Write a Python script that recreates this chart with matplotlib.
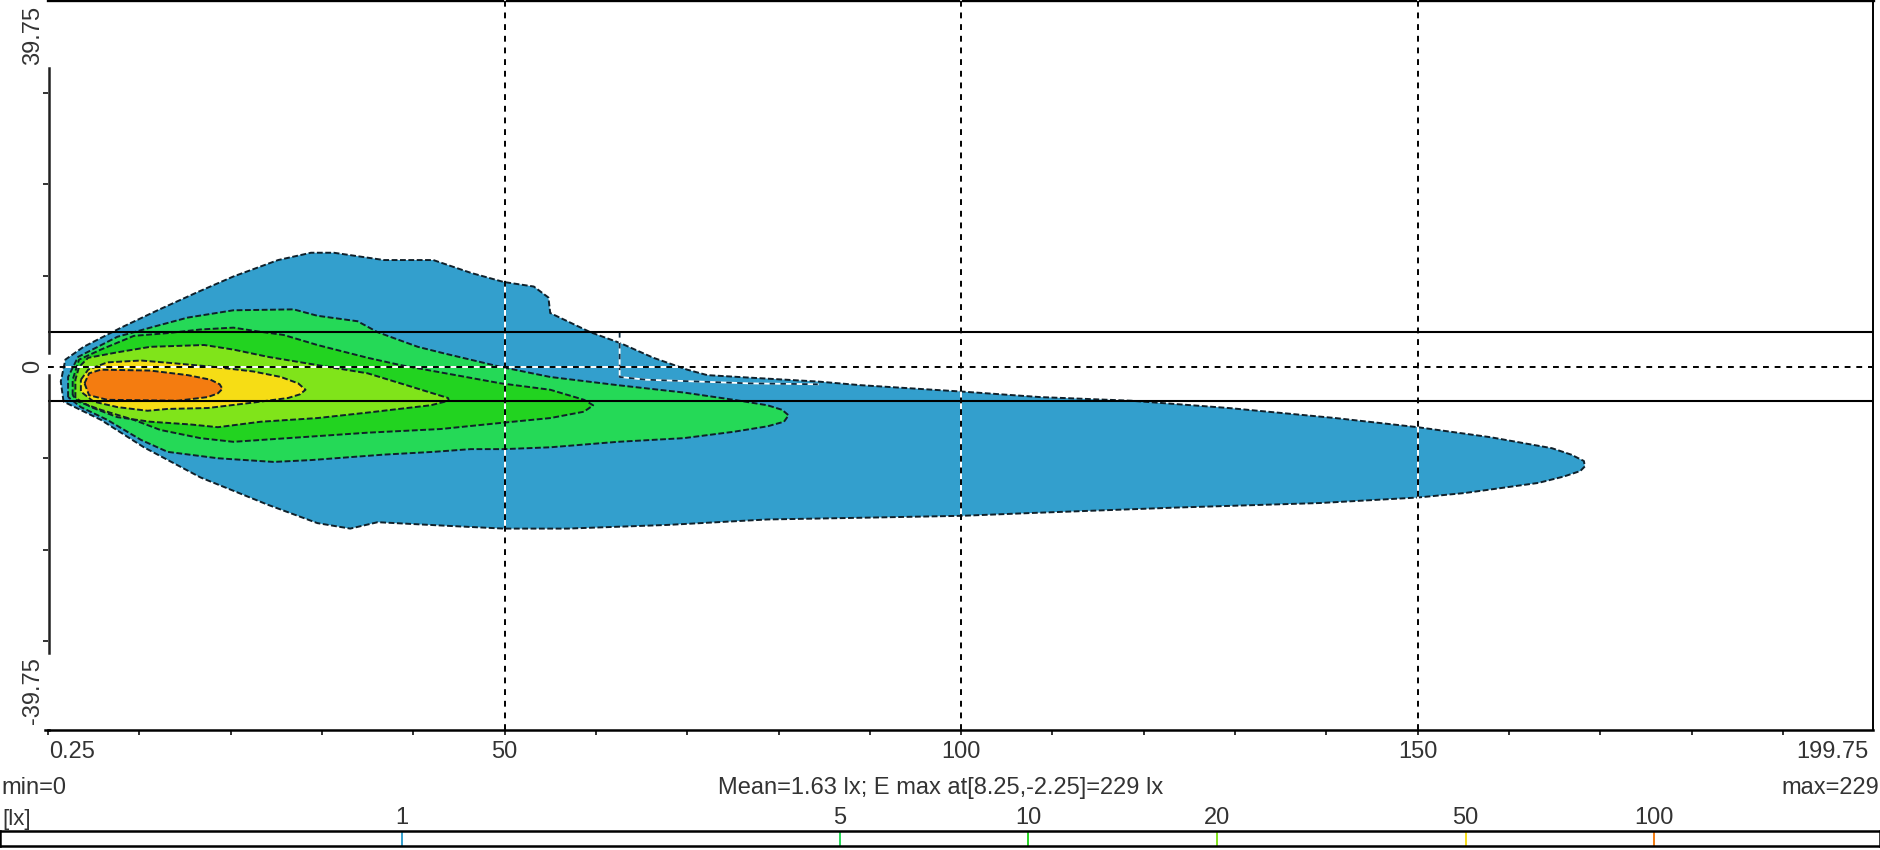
import matplotlib
matplotlib.use("Agg")
import matplotlib.pyplot as plt

plt.rcParams["font.family"] = ["Liberation Sans", "DejaVu Sans"]

# isolux outlines, road coordinates in metres
x_1 = [1.7, 1.4, 1.9, 3.9, 8.0, 12.0, 16.4, 20.3, 25.2, 28.8, 31.3, 36.8, 42.2, 46.3, 49.9, 53.2, 54.8, 55.0,
       59.4, 62.7, 66.3, 70.0, 72.2, 77.3, 84.3, 89.0, 100.1, 108.6, 118.6, 129.3, 141.0, 150.0, 158.0, 164.7,
       166.8, 168.2, 168.3, 167.8, 166.0, 163.2, 155.2, 150.0, 139.3, 123.5, 107.5, 100.1, 89.8, 78.8, 67.8, 56.9,
       49.9, 43.8, 36.1, 33.1, 29.5, 24.1, 16.7, 10.5, 5.8]
y_1 = [-3.8, -1.6, 0.8, 2.2, 4.3, 6.2, 8.2, 9.9, 11.7, 12.5, 12.5, 11.7, 11.7, 10.3, 9.3, 8.8, 7.6, 5.9,
       3.8, 2.6, 1.0, -0.3, -0.9, -1.2, -1.6, -2.0, -2.7, -3.3, -3.7, -4.5, -5.6, -6.6, -7.7, -8.9,
       -9.6, -10.3, -10.9, -11.4, -12.0, -12.7, -13.8, -14.3, -14.9, -15.4, -16.0, -16.3, -16.5, -16.7, -17.3, -17.7,
       -17.7, -17.4, -17.0, -17.7, -17.1, -15.1, -12.1, -8.8, -5.8]

x_5 = [2.2, 2.2, 3.3, 7.6, 11.2, 15.3, 20.3, 26.9, 29.5, 33.9, 36.1, 40.5, 43.3, 49.6, 55.0, 62.4, 69.6, 75.1,
       78.8, 80.4, 81.1, 80.6, 78.8, 75.1, 69.6, 62.4, 55.0, 49.9, 46.3, 42.2, 36.8, 28.8, 24.7, 18.6, 13.1, 10.2,
       6.5, 3.6]
y_5 = [-3.3, -1.1, 1.1, 3.3, 4.3, 5.4, 6.2, 6.3, 5.6, 5.0, 3.8, 2.2, 1.5, 0.0, -1.1, -2.0, -2.8, -3.6,
       -4.2, -4.7, -5.3, -6.0, -6.5, -7.1, -7.8, -8.2, -8.8, -9.0, -9.0, -9.3, -9.6, -10.2, -10.4, -10.0, -9.3, -8.0,
       -5.8, -4.4]

x_10 = [2.7, 2.7, 3.4, 5.8, 9.4, 13.1, 16.7, 20.3, 22.9, 25.8, 29.5, 35.0, 38.6, 44.1, 49.6, 55.0, 58.7, 59.7,
        58.7, 55.0, 49.9, 43.0, 35.0, 27.7, 20.3, 16.7, 12.3, 9.4, 5.8, 3.3]
y_10 = [-3.1, -1.4, 0.8, 1.9, 3.4, 3.7, 4.1, 4.3, 3.9, 3.5, 2.4, 1.0, 0.2, -0.8, -1.8, -2.5, -3.6, -4.2,
        -4.9, -5.6, -6.1, -6.8, -7.2, -7.7, -8.2, -7.8, -6.9, -5.8, -4.7, -3.8]

x_20 = [3.0, 3.0, 3.4, 4.4, 7.6, 11.2, 17.1, 20.3, 24.1, 29.5, 35.0, 38.6, 43.8, 43.9, 41.9, 35.0, 29.5, 23.3,
        18.6, 15.6, 11.2, 7.6, 4.7]
y_20 = [-3.4, -1.4, 0.0, 1.0, 1.6, 2.2, 2.4, 1.9, 1.1, 0.2, -0.7, -1.8, -3.4, -3.7, -4.2, -5.0, -5.6, -6.0,
        -6.6, -6.3, -6.0, -5.5, -4.4]

x_50 = [3.6, 4.4, 6.5, 10.2, 13.8, 18.2, 22.5, 25.5, 27.4, 28.2, 27.6, 26.3, 22.5, 17.5, 13.1, 10.9, 7.6, 5.0, 3.6]
y_50 = [-1.4, -0.3, 0.5, 0.7, 0.4, 0.0, -0.5, -1.1, -1.8, -2.5, -3.0, -3.4, -3.9, -4.5, -4.6, -4.8, -4.4, -3.8,
        -2.7]

x_100 = [4.0, 4.5, 5.8, 11.2, 15.3, 17.8, 18.8, 19.1, 18.6, 17.5, 14.2, 6.5, 4.5]
y_100 = [-1.8, -0.7, -0.3, -0.4, -0.9, -1.4, -1.9, -2.4, -2.9, -3.3, -3.7, -3.6, -3.1]

# small notch inside the 1 lx area
x_notch = [62.6, 62.6, 65.5, 76.8, 84.3]
y_notch = [3.8, -1.1, -1.4, -1.8, -1.9]

levels = [1, 5, 10, 20, 50, 100]
level_colors = ["#339fcd", "#25d957", "#22d320", "#80e41a", "#f6dd15", "#f47c10"]
grid_x = [50, 100, 150]
lane_y = [3.85, -3.75]
x_minor = list(range(0, 200, 10))
y_minor = [-30, -20, -10, 10, 20, 30]

outlines = [(x_1, y_1), (x_5, y_5), (x_10, y_10), (x_20, y_20), (x_50, y_50), (x_100, y_100)]
text_color = "#333333"
font_size = 17

fig = plt.figure(figsize=(18.8, 8.5), dpi=100)
ax = fig.add_axes([48 / 1880, 120 / 850, 1825 / 1880, 730 / 850])
ax.set_xlim(0.08, 199.86)
ax.set_ylim(-39.75, 40.17)

for (xs, ys), color in zip(outlines, level_colors):
    ax.fill(xs, ys, color=color, lw=0, zorder=2)
    ax.plot(xs + xs[:1], ys + ys[:1], color="#10202a", lw=1.4, ls=(0, (3, 1.3)), zorder=3)

ax.plot(x_notch, y_notch, color="white", lw=1.3, zorder=3)
ax.plot(x_notch, y_notch, color="#0c2a40", lw=1.3, ls=(0, (3, 3)), zorder=3)

# dashed grid, pale in the gaps over the filled areas
for gx in grid_x:
    ax.axvline(gx, color="white", lw=1.4, zorder=4)
    ax.axvline(gx, color="black", lw=1.4, ls=(0, (3, 3)), zorder=4)
ax.axhline(0, color="white", lw=1.4, zorder=4)
ax.axhline(0, color="black", lw=1.4, ls=(0, (3, 3)), zorder=4)
for ly in lane_y:
    ax.axhline(ly, color="black", lw=1.5, zorder=5)

ax.spines["left"].set_visible(False)
ax.spines["top"].set_linewidth(2.4)
ax.spines["right"].set_linewidth(1.4)
ax.spines["bottom"].set_linewidth(1.8)
ax.plot([0.08, 0.08], [32.7, 1.5], color="#222222", lw=1.8, clip_on=False, zorder=6)
ax.plot([0.08, 0.08], [-0.9, -31.3], color="#222222", lw=1.8, clip_on=False, zorder=6)
ax.plot([-0.3, 0.1], [-39.75, -39.75], color="black", lw=1.8, clip_on=False)

ax.set_xticks(x_minor)
ax.set_yticks(y_minor)
ax.set_xticklabels([])
ax.set_yticklabels([])
ax.tick_params(length=3.5, width=1.3, color="#222222")

ax.text(0.1, -42.2, "0.25", ha="left", va="center", fontsize=font_size, color=text_color, clip_on=False)
for gx in grid_x:
    ax.text(gx, -42.2, str(gx), ha="center", va="center", fontsize=font_size, color=text_color, clip_on=False)
ax.text(199.4, -42.2, "199.75", ha="right", va="center", fontsize=font_size, color=text_color, clip_on=False)
ax.text(-1.6, 36.3, "39.75", rotation=90, ha="center", va="center", fontsize=font_size, color=text_color, clip_on=False)
ax.text(-1.6, 0, "0", rotation=90, ha="center", va="center", fontsize=font_size, color=text_color, clip_on=False)
ax.text(-1.6, -35.4, "-39.75", rotation=90, ha="center", va="center", fontsize=font_size, color=text_color, clip_on=False)

fig.text(1 / 1880, 1 - 788 / 850, "min=0", ha="left", va="center", fontsize=font_size, color=text_color)
fig.text(941 / 1880, 1 - 788 / 850, "Mean=1.63 lx; E max at[8.25,-2.25]=229 lx", ha="center", va="center",
         fontsize=font_size, color=text_color)
fig.text(1879 / 1880, 1 - 788 / 850, "max=229", ha="right", va="center", fontsize=font_size, color=text_color)
fig.text(2 / 1880, 1 - 819 / 850, "[lx]", ha="left", va="center", fontsize=16, color=text_color)

# colour scale is logarithmic, runs up to the maximum
bar = fig.add_axes([0, 4 / 850, 1, 15 / 850])
bar.set_xscale("log")
bar.set_xlim(0.2278, 229.6)
bar.set_ylim(0, 1)
bar.set_yticks([])
bar.set_xticks([])
bar.minorticks_off()
for side in bar.spines:
    bar.spines[side].set_linewidth(1.8)
for level, color in zip(levels, level_colors):
    bar.plot([level, level], [0, 1], color=color, lw=1.4)
    bar.text(level, 1.85, str(level), ha="center", va="center", fontsize=font_size, color=text_color, clip_on=False)

fig.savefig("out.png", dpi=100)
